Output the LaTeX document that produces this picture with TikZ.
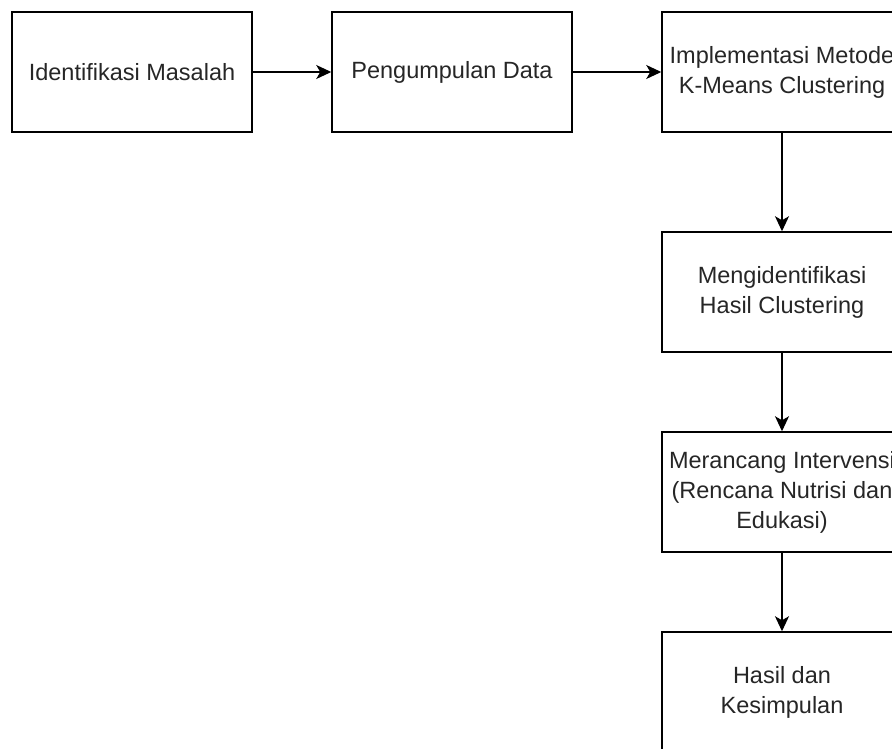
\documentclass[tikz,border=0pt]{standalone}
\usepackage{fontspec}
\setmainfont{Liberation Sans}
\usetikzlibrary{arrows.meta}
\begin{document}
\begin{tikzpicture}[x=1pt,y=-1pt,
 box/.style={draw=black, line width=1.5pt, minimum width=240pt, minimum height=120pt, inner sep=0pt, align=center, font=\fontsize{23.5}{30}\selectfont, text=black!85},
 arr/.style={line width=1.5pt, -{Stealth[length=15pt,width=14pt,inset=4pt]}}]
\useasboundingbox (0,0) rectangle (892,748);
\clip (0,0) rectangle (892,748);
\node[box] (a) at (132,72) {Identifikasi Masalah};
\node[box] (b) at (452,72) {Pengumpulan Data};
\node[box] (c) at (782,72) {Implementasi Metode\\K-Means Clustering};
\node[box] (d) at (782,292) {Mengidentifikasi\\Hasil Clustering};
\node[box] (e) at (782,492) {Merancang Intervensi\\(Rencana Nutrisi dan\\Edukasi)};
\node[box] (f) at (782,692) {Hasil dan\\Kesimpulan};
\draw[arr] (a) -- (b);
\draw[arr] (b) -- (c);
\draw[arr] (c) -- (d);
\draw[arr] (d) -- (e);
\draw[arr] (e) -- (f);
\end{tikzpicture}
\end{document}
